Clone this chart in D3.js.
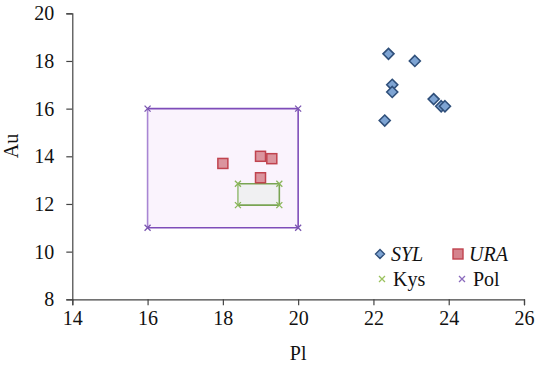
<!DOCTYPE html>
<html><head><meta charset="utf-8">
<script src="https://cdn.jsdelivr.net/npm/d3@7"></script>
<style>body{margin:0;background:#fff}svg{display:block}</style>
</head><body>
<svg id="c" width="535" height="365"></svg>
<script>
const sylPl = [22.4, 23.1, 22.5, 22.5, 23.6, 23.8, 23.9, 22.3];
const sylAu = [18.3, 18.0, 17.0, 16.7, 16.4, 16.1, 16.1, 15.5];
const uraPl = [18.0, 19.0, 19.3, 19.0];
const uraAu = [13.7, 14.0, 13.9, 13.1];
const kysPl = [18.4, 18.4, 19.5, 19.5, 18.4];
const kysAu = [11.95, 12.85, 12.85, 11.95, 11.95];
const polPl = [16, 16, 20, 20, 16];
const polAu = [11, 16, 16, 11, 11];
const xTicks = [14, 16, 18, 20, 22, 24, 26];
const yTicks = [8, 10, 12, 14, 16, 18, 20];
const legendItems = ["SYL", "URA", "Kys", "Pol"];

const FONT = '"Liberation Serif"';
const svg = d3.select("#c");
const L = 72.3, R = 524, T = 13.3, B = 299.3;
const x = d3.scaleLinear().domain([14, 26]).range([L, R]);
const y = d3.scaleLinear().domain([8, 20]).range([B, T]);
const FS = 20;

const line = d3.line().x(d => x(d[0])).y(d => y(d[1]));
const pol = polPl.map((p, i) => [p, polAu[i]]);
const kys = kysPl.map((p, i) => [p, kysAu[i]]);
svg.append("path").attr("d", line(pol) + "Z").attr("fill", "#faf3fd").attr("stroke", "none");
for (let i = 0; i < pol.length - 1; i++) {
  svg.append("path").attr("d", line([pol[i], pol[i + 1]]))
    .attr("stroke", i === 0 ? "#a886d3" : "#7e4db9").attr("stroke-width", 1.6).attr("fill", "none");
}
svg.append("path").attr("d", line(kys) + "Z").attr("fill", "#f0f0f2").attr("stroke", "none");
for (let i = 0; i < kys.length - 1; i++) {
  svg.append("path").attr("d", line([kys[i], kys[i + 1]]))
    .attr("stroke", i === 0 ? "#9cc07e" : "#79a453").attr("stroke-width", 1.6).attr("fill", "none");
}

function xMark(g, cx, cy, s, col) {
  g.append("path").attr("d", `M${cx - s},${cy - s}L${cx + s},${cy + s}M${cx - s},${cy + s}L${cx + s},${cy - s}`)
    .attr("stroke", col).attr("stroke-width", 1.3);
}
const g = svg.append("g");
pol.slice(0, 4).forEach(d => xMark(g, x(d[0]), y(d[1]), 3, "#7a55b0"));
kys.slice(0, 4).forEach(d => xMark(g, x(d[0]), y(d[1]), 3, "#8ab65a"));

const xa = svg.append("g").attr("transform", `translate(0,${B})`)
  .call(d3.axisBottom(x).tickValues(xTicks).tickSize(6).tickPadding(6).tickFormat(d3.format("d")));
const ya = svg.append("g").attr("transform", `translate(${L},0)`)
  .call(d3.axisLeft(y).tickValues(yTicks).tickSize(6).tickPadding(12).tickFormat(d3.format("d")));
[xa, ya].forEach(a => {
  a.attr("font-family", null).attr("font-size", null);
  a.select(".domain").attr("stroke", "#444").attr("stroke-width", 1.2);
  a.selectAll(".tick line").attr("stroke", "#444").attr("stroke-width", 1.2);
  a.selectAll("text").style("font-size", FS + "px").attr("fill", "#111").style("font-family", FONT);
});

const sq = 10;
svg.selectAll(".ura").data(uraPl).enter().append("rect")
  .attr("x", (d, i) => x(d) - sq / 2).attr("y", (d, i) => y(uraAu[i]) - sq / 2)
  .attr("width", sq).attr("height", sq)
  .attr("fill", "#d5838d").attr("fill-opacity", 0.85).attr("stroke", "#c0434f").attr("stroke-width", 1.5);

const dm = 5.5;
const diamond = (cx, cy, r) => `M${cx},${cy - r}L${cx + r},${cy}L${cx},${cy + r}L${cx - r},${cy}Z`;
svg.selectAll(".syl").data(sylPl).enter().append("path")
  .attr("d", (d, i) => diamond(x(d), y(sylAu[i]), dm))
  .attr("fill", "#7ea4d3").attr("stroke", "#2f4f7a").attr("stroke-width", 1.6);

svg.append("text").attr("x", (L + R) / 2).attr("y", 360).attr("text-anchor", "middle")
  .style("font-size", FS + "px").style("font-family", FONT).attr("fill", "#111").text("Pl");
svg.append("text").attr("transform", "translate(18,146) rotate(-90)").attr("text-anchor", "middle")
  .style("font-size", FS + "px").style("font-family", FONT).attr("fill", "#111").text("Au");

const lg = svg.append("g");
const pos = [[380, 254], [458, 254], [382, 279], [462, 279]];
lg.append("path").attr("d", diamond(pos[0][0], pos[0][1], 4.5)).attr("fill", "#7ea4d3").attr("stroke", "#2f4f7a").attr("stroke-width", 1.4);
lg.append("rect").attr("x", pos[1][0] - 5).attr("y", pos[1][1] - 5).attr("width", 10).attr("height", 10)
  .attr("fill", "#d5838d").attr("stroke", "#c0434f").attr("stroke-width", 1.4);
xMark(lg, pos[2][0], pos[2][1], 3, "#9bc25e");
xMark(lg, pos[3][0], pos[3][1], 3, "#8b6bbd");
legendItems.forEach((t, i) => {
  lg.append("text").attr("x", pos[i][0] + 11).attr("y", pos[i][1] + 7)
    .style("font-size", FS + "px").style("font-family", FONT).attr("fill", "#111")
    .style("font-style", i < 2 ? "italic" : "normal").text(t);
});
</script>
</body></html>
